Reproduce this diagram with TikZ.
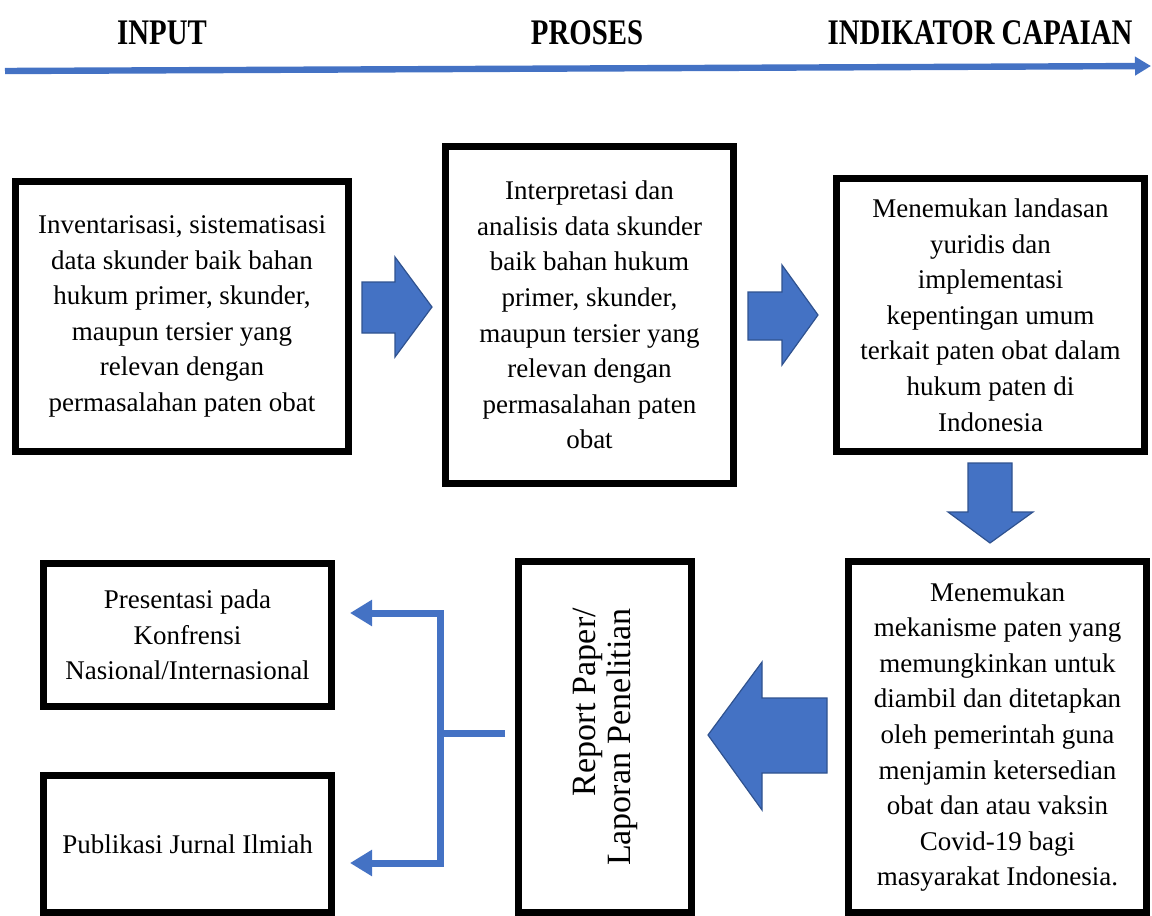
\documentclass[tikz,border=0pt]{standalone}
\usepackage{fontspec}
\setmainfont{Liberation Serif}
\newfontfamily\headfont{Liberation Serif}[FakeStretch=0.8]
\usetikzlibrary{positioning,calc,arrows.meta}
\definecolor{FlowBlue}{RGB}{68,114,196}
\definecolor{FlowBlueDark}{RGB}{47,82,143}

\begin{document}
\begin{tikzpicture}[
    x=0.5pt,
    y=-0.5pt,
    font=\fontsize{13.5}{17.8}\selectfont,
    head/.style={
        font=\headfont\bfseries\fontsize{18}{20}\selectfont,
        inner sep=0pt
    },
    box/.style={
        draw,
        line width=3.4pt,
        align=center,
        inner sep=2pt
    },
    blockarrow/.style={
        fill=FlowBlue,
        draw=FlowBlueDark,
        line width=0.6pt,
        line join=miter
    },
    flow/.style={
        draw=FlowBlue,
        line width=3.5pt
    },
    arrowed/.style={
        -{Triangle[length=11pt,width=12.5pt]}
    }
]

\useasboundingbox (0,0) rectangle (1152,916);

\node[head] (input) at (162,33) {INPUT};
\node[head] (proses) at (587,33) {PROSES};
\node[head] (indikator) at (980,33) {INDIKATOR CAPAIAN};

\coordinate (tlstart) at (5,71);
\coordinate (tlend) at (1151,66);
\draw[flow, line width=3.2pt, -{Triangle[length=8pt,width=9pt]}] (tlstart) -- (tlend);

\node[box, minimum width=166.6pt, minimum height=135pt] (inv) at (182,316.5)
{Inventarisasi, sistematisasi\\data skunder baik bahan\\hukum primer, skunder,\\maupun tersier yang\\relevan dengan\\permasalahan paten obat};

\node[box, minimum width=144.1pt, minimum height=168.6pt] (interp) at (589.5,315)
{Interpretasi dan\\analisis data skunder\\baik bahan hukum\\primer, skunder,\\maupun tersier yang\\relevan dengan\\permasalahan paten\\obat};

\node[box, minimum width=154.1pt, minimum height=136.6pt] (landasan) at (990.5,315)
{Menemukan landasan\\yuridis dan\\implementasi\\kepentingan umum\\terkait paten obat dalam\\hukum paten di\\Indonesia};

\node[box, minimum width=149.1pt, minimum height=175.6pt] (mekanisme) at (997.5,737)
{Menemukan\\mekanisme paten yang\\memungkinkan untuk\\diambil dan ditetapkan\\oleh pemerintah guna\\menjamin ketersedian\\obat dan atau vaksin\\Covid-19 bagi\\masyarakat Indonesia.};

\node[box, rotate=90, align=right, minimum width=175.6pt, minimum height=86.6pt,
      font=\fontsize{17}{17.5}\selectfont] (report) at (605,737)
{Report Paper/\\Laporan Penelitian};

\node[box, minimum width=144.1pt, minimum height=71.6pt] (pres) at (187.5,635)
{Presentasi pada\\Konfrensi\\Nasional/Internasional};

\node[box, minimum width=144.1pt, minimum height=68.6pt] (pub) at (187.5,844)
{Publikasi Jurnal Ilmiah};

\path[blockarrow] (362,282) -- (395,282) -- (395,257) -- (432,307)
    -- (395,357) -- (395,333) -- (362,333) -- cycle;
\path[blockarrow] (748,292) -- (782,292) -- (782,265) -- (818,315)
    -- (782,365) -- (782,340) -- (748,340) -- cycle;
\path[blockarrow] (968,463) -- (1012,463) -- (1012,512) -- (1033,512)
    -- (990,543) -- (948,512) -- (968,512) -- cycle;
\path[blockarrow] (827,698) -- (762,698) -- (762,662) -- (708,735)
    -- (762,810) -- (762,773) -- (827,773) -- cycle;

\coordinate (stub) at (505,733);
\coordinate (split) at (440,733);
\coordinate (presin) at (350,613);
\coordinate (pubin) at (350,863);

\draw[flow] (stub) -- (split);
\draw[flow, arrowed] (split) |- (presin);
\draw[flow, arrowed] (split) |- (pubin);

\end{tikzpicture}
\end{document}
